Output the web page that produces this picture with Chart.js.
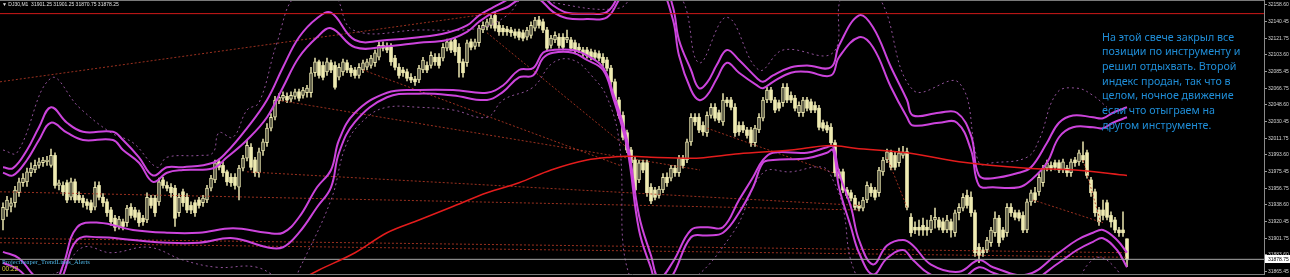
<!DOCTYPE html>
<html>
<head>
<meta charset="utf-8">
<script src="https://cdn.jsdelivr.net/npm/chart.js@4.4.1/dist/chart.umd.min.js"></script>
<style>
  html, body { margin: 0; padding: 0; background: #000; overflow: hidden; }
  #wrap { position: relative; width: 1290px; height: 277px; background: #000; }
  #c { position: absolute; left: 0; top: 0; }
  .txt { position: absolute; white-space: pre; }
  #hdr { left: 2px; top: 1px; font: 5px "Liberation Sans", sans-serif; color: #e0e0e0; line-height: 6px; }
  #note { left: 1102px; top: 29.5px; font: 10.7px "Noto Sans", sans-serif; color: #1f8ed8; line-height: 14.7px; }
  #ind { left: 2px; top: 258px; font: 6.5px "Liberation Serif", serif; color: #4fb6e6; line-height: 7px; }
  #tm { left: 2px; top: 265px; font: 6.5px "Liberation Sans", sans-serif; color: #e0d040; line-height: 7px; }
</style>
</head>
<body>
<div id="wrap">
  <canvas id="c" width="1290" height="277"></canvas>
  <div id="hdr" class="txt">▼ DJ30,M1  31901.25 31901.25 31870.75 31878.25</div>
  <div id="note" class="txt">На этой свече закрыл все
позиции по инструменту и
решил отдыхвать. Второй
индекс продан, так что в
целом, ночное движение
если что отыграем на
другом инструменте.</div>
  <div id="ind" class="txt">Projectheaper_TrendLines_Alerts</div>
  <div id="tm" class="txt">00:22</div>
</div>
<script>
// ---------- DATA (DJ30, M1) ----------
const open = [
31922,31933,31937,31941,31952,31963,31964,31974,31977,31982,
31985,31986,31982,31993,31960,31960,31963,31947,31964,31949,
31946,31942,31941,31936,31960,31947,31942,31933,31924,31915,
31920,31919,31936,31933,31930,31924,31922,31946,31946,31942,
31966,31960,31958,31957,31930,31953,31947,31938,31941,31944,
31941,31944,31957,31966,31986,31982,31975,31969,31969,31958,
31979,31990,32002,31988,31974,31998,32007,32023,32035,32053,
32056,32058,32055,32058,32063,32059,32062,32062,32084,32096,
32092,32085,32095,32092,32079,32085,32095,32089,32087,32081,
32087,32090,32092,32095,32101,32114,32113,32112,32100,32090,
32087,32085,32079,32077,32076,32087,32092,32092,32101,32101,
32100,32111,32118,32120,32112,32096,32095,32118,32113,32117,
32131,32134,32136,32147,32136,32133,32132,32131,32129,32129,
32128,32123,32125,32133,32142,32140,32131,32114,32120,32123,
32123,32120,32120,32117,32112,32109,32109,32107,32106,32105,
32101,32098,32089,32074,32054,32037,32018,31999,31988,31966,
31985,31985,31958,31955,31949,31955,31969,31968,31979,31974,
31990,31988,32008,32035,32035,32026,32018,32037,32046,32040,
32030,32054,32054,32046,32026,32026,32021,32021,32007,32021,
32034,32054,32065,32054,32051,32051,32068,32059,32056,32040,
32040,32054,32052,32048,32045,32029,32026,32024,32007,31975,
31975,31955,31952,31946,31938,31935,31944,31958,31955,31952,
31975,31988,31996,31993,31985,31993,31997,31925,31914,31914,
31916,31914,31911,31922,31922,31920,31911,31920,31908,31930,
31935,31949,31947,31930,31892,31889,31889,31897,31908,31924,
31911,31908,31936,31930,31930,31927,31911,31942,31952,31953,
31963,31979,31982,31985,31985,31977,31979,31974,31988,31986,
31993,31996,31966,31953,31933,31933,31941,31927,31922,31911,
31911,31901.25];
const high = [
31941,31948,31946,31959,31968,31973,31979,31985,31988,31990,
31991,31992,32000,31996,31966,31964,31966,31968,31967,31953,
31949,31945,31944,31964,31964,31951,31945,31936,31927,31926,
31923,31938,31940,31936,31933,31927,31952,31949,31949,31968,
31969,31964,31962,31960,31951,31956,31951,31942,31944,31947,
31949,31960,31971,31988,31989,31986,31977,31973,31973,31982,
31993,32010,32006,31991,32001,32011,32028,32039,32058,32061,
32063,32062,32063,32066,32066,32068,32070,32090,32100,32098,
32096,32100,32098,32096,32094,32099,32098,32092,32090,32094,
32098,32099,32103,32109,32118,32118,32117,32116,32103,32094,
32090,32088,32083,32080,32092,32101,32096,32107,32105,32105,
32116,32121,32121,32123,32116,32099,32120,32121,32121,32136,
32140,32143,32147,32151,32140,32136,32135,32134,32132,32132,
32131,32134,32140,32145,32146,32143,32134,32125,32129,32127,
32127,32131,32123,32120,32116,32112,32112,32110,32109,32108,
32105,32101,32092,32077,32057,32041,32021,32002,31991,31988,
31988,31988,31962,31958,31959,31973,31974,31982,31982,31993,
31993,32011,32039,32039,32039,32030,32041,32050,32050,32043,
32061,32057,32057,32050,32030,32030,32024,32024,32026,32039,
32057,32068,32068,32057,32054,32072,32072,32063,32059,32052,
32057,32057,32055,32052,32048,32032,32030,32028,32010,31978,
31978,31958,31955,31949,31942,31947,31964,31962,31958,31980,
31991,32000,31999,31997,32001,32003,32001,31929,31920,31922,
31924,31922,31927,31935,31925,31924,31927,31923,31933,31940,
31951,31955,31953,31933,31896,31892,31903,31914,31931,31927,
31914,31940,31940,31933,31933,31931,31945,31955,31958,31973,
31982,31988,31986,31988,31988,31989,31982,31989,31991,31999,
32008,31999,31969,31956,31936,31944,31944,31931,31925,31914,
31931,31901.25];
const low = [
31911,31926,31931,31936,31948,31959,31959,31970,31974,31979,
31981,31982,31980,31957,31955,31949,31941,31944,31941,31941,
31936,31934,31930,31933,31944,31937,31926,31916,31910,31912,
31911,31915,31924,31922,31915,31916,31919,31935,31926,31938,
31957,31954,31947,31915,31926,31937,31930,31929,31926,31935,
31937,31941,31954,31963,31977,31970,31960,31959,31956,31944,
31976,31987,31977,31970,31969,31993,32003,32020,32032,32050,
32053,32051,32052,32055,32053,32056,32057,32057,32080,32078,
32076,32081,32084,32066,32076,32081,32084,32080,32078,32078,
32084,32087,32089,32091,32098,32108,32106,32092,32087,32078,
32080,32075,32073,32070,32073,32084,32084,32089,32092,32089,
32097,32108,32106,32103,32079,32079,32091,32109,32110,32113,
32128,32131,32133,32130,32125,32125,32125,32124,32122,32120,
32119,32120,32122,32130,32133,32128,32108,32111,32117,32111,
32109,32117,32108,32106,32106,32102,32100,32098,32098,32097,
32091,32086,32070,32051,32034,32010,31996,31981,31952,31963,
31974,31948,31940,31944,31946,31952,31959,31965,31970,31970,
31979,31985,32004,32026,32018,32015,32014,32034,32031,32029,
32026,32047,32043,32014,32015,32018,32012,32003,32003,32018,
32031,32051,32051,32040,32042,32047,32051,32051,32042,32036,
32036,32042,32040,32040,32021,32020,32018,32003,31970,31968,
31952,31946,31943,31933,31932,31932,31941,31948,31944,31948,
31971,31985,31977,31977,31981,31990,31933,31904,31907,31905,
31905,31905,31908,31913,31911,31908,31908,31903,31904,31922,
31932,31935,31926,31882,31875,31882,31886,31893,31904,31893,
31900,31904,31926,31922,31921,31908,31908,31938,31941,31949,
31959,31976,31976,31977,31974,31974,31970,31970,31981,31982,
31985,31968,31948,31926,31916,31922,31922,31914,31908,31904,
31904,31870.75];
const close = [
31936,31944,31941,31955,31964,31968,31975,31979,31982,31986,
31988,31988,31993,31960,31963,31953,31944,31964,31944,31944,
31941,31938,31933,31958,31947,31941,31930,31920,31914,31923,
31915,31935,31927,31925,31919,31920,31947,31938,31930,31964,
31960,31957,31952,31924,31947,31941,31933,31933,31930,31938,
31946,31957,31968,31985,31980,31974,31964,31963,31960,31979,
31990,32004,31980,31974,31997,32008,32023,32035,32054,32057,
32059,32054,32059,32063,32056,32065,32067,32084,32096,32081,
32079,32096,32087,32068,32090,32096,32087,32084,32081,32090,
32095,32096,32100,32106,32114,32111,32109,32096,32090,32081,
32084,32078,32076,32074,32089,32098,32087,32103,32096,32092,
32112,32118,32109,32107,32095,32084,32117,32112,32118,32133,
32136,32140,32144,32133,32129,32129,32129,32128,32125,32123,
32122,32131,32136,32142,32136,32131,32111,32122,32125,32114,
32112,32123,32111,32109,32109,32106,32103,32101,32101,32100,
32095,32089,32074,32054,32037,32013,31999,31985,31955,31985,
31977,31952,31943,31947,31956,31969,31963,31979,31974,31990,
31982,32008,32035,32030,32021,32019,32037,32046,32034,32032,
32054,32051,32046,32018,32019,32021,32015,32007,32023,32035,
32054,32065,32054,32043,32045,32068,32054,32054,32045,32048,
32054,32045,32043,32043,32024,32023,32021,32007,31974,31971,
31955,31949,31946,31936,31935,31944,31960,31952,31947,31977,
31988,31997,31980,31980,31996,31997,31936,31908,31911,31911,
31911,31911,31922,31925,31914,31911,31922,31911,31930,31936,
31947,31938,31930,31886,31883,31886,31900,31911,31924,31897,
31903,31936,31930,31925,31924,31911,31942,31952,31944,31969,
31979,31985,31979,31980,31977,31986,31974,31986,31985,31996,
31988,31971,31952,31930,31920,31927,31925,31920,31911,31908,
31908,31878.25];

// Channel bands (candle index -> price)
const uIdx = [0,2.5,6,9,12,16,20,27.5,30,34,37.5,41,45,52.5,56,61,66,70,74,78.5,82,88,96,104,111,116,119,122.5,126,129,133.5,137.5,141,146,151,154,159,164,167.5,169,172,174,176,178.5,181,184,188.5,190,192.5,197,201,207,209,214,217.5,222,226,227.5,234,238.5,242,244,247.5,254,257,261,264,267.5,272.5,275,277.5,281];
const upper1 = [31980,31979,31999,32024,32046,32029,32019,32019,32010,31991,31971,31980,31980,31985,31997,32023,32054,32090,32123,32144,32150,32120,32120,32123,32128,32136,32147,32156,32164,32173,32173,32158,32150,32149,32151,32170,32208,32197,32156,32120,32087,32067,32073,32093,32109,32098,32078,32074,32081,32090,32092,32090,32114,32147,32134,32090,32054,32037,32040,32040,32015,31971,31968,31974,31980,32007,32029,32037,32035,32034,32040,32046];
const upper2 = [31974,31971,31988,32010,32029,32018,32010,32010,31999,31985,31964,31974,31977,31979,31991,32010,32035,32068,32101,32123,32133,32112,32113,32117,32120,32129,32140,32150,32156,32164,32166,32151,32144,32143,32145,32164,32197,32181,32142,32103,32065,32054,32059,32078,32095,32084,32070,32067,32074,32084,32085,32081,32101,32123,32112,32068,32035,32026,32029,32029,31999,31960,31958,31958,31966,31985,32013,32024,32024,32023,32029,32035];
const lIdx = [0,4,7.5,12,15,18.5,24,32.5,41,49,57.5,66,70,74,78.5,82,84,88,96,104,112.5,121,125,129,132.5,135,137.5,142.5,146,150,152.5,156,159,162,164,167.5,172,176,180,184,187.5,190,192.5,201,206,207.5,209,212,214,217.5,221,225,227.5,232,239,244,247.5,256,264,268.5,272.5,275,278.5,281];
const lower1 = [31887,31880,31862,31845,31872,31914,31919,31911,31908,31908,31913,31908,31908,31925,31958,31977,32010,32040,32062,32065,32065,32062,32070,32087,32089,32106,32109,32109,32103,32090,32062,32010,31927,31883,31858,31876,31911,31914,31914,31944,31969,31988,31996,31996,32002,32003,31974,31936,31900,31873,31894,31900,31894,31873,31865,31878,31870,31862,31886,31900,31908,31911,31900,31886];
const lower2 = [31875,31867,31851,31834,31861,31900,31903,31900,31897,31897,31902,31892,31892,31908,31936,31958,31996,32030,32057,32061,32059,32054,32063,32079,32081,32100,32106,32106,32098,32087,32057,32002,31911,31869,31845,31862,31903,31905,31908,31930,31958,31985,31988,31990,31996,31999,31958,31914,31886,31862,31880,31889,31878,31862,31856,31870,31864,31854,31875,31889,31898,31902,31889,31870];
const dUpIdx = [0,3.5,12,19,27,32.5,38.5,41,49,52.5,54,57.5,61,64,68.5,73.5,82.5,87.5,104,119,126,131,137.5,154,159,169,174,181,189,195,207.5,210,218.5,227.5,239,244,247.5,256,259,263.5,268.5,272.5,276];
const dottedUpper = [31999,31996,32078,32046,32018,32007,31980,31991,31993,31996,32018,32013,32043,32051,32117,32170,32170,32131,32131,32133,32147,32170,32161,32155,32175,32170,32095,32145,32087,32109,32106,32170,32170,32065,32073,31985,31985,31991,32010,32062,32067,32059,32046];
const dDnIdx = [0,14,20,27,36.5,45,53.5,63.5,72,74,82,86,91,96,104,112.5,121,125,132.5,137.5,142.5,147.5,151,154,157.5,170,182.5,190,197,205,207.5,210,212.5,217.5,266.75,271,274,277.5,281];
const dottedLower = [31851,31865,31892,31886,31892,31878,31870,31870,31851,31867,31944,32007,32035,32046,32046,32043,32035,32054,32068,32095,32098,32079,32057,32010,31851,31851,31908,31974,31975,31980,31966,31936,31870,31845,31845,31872,31881,31872,31851];
// Moving average (red)
const maIdx = [75,79,88,96,104,112,121,129,137,146,152,156,162,172,184,197,207,213,226,239,256,268,281];
const maValues = [31858,31867,31886,31908,31922,31936,31952,31963,31977,31988,31991,31992,31991,31990,31995,31999,32004,32001,31996,31986,31979,31977,31971];
// Dotted trend lines: [startIndex, startPrice, endIndex, endPrice]
const trend1 = [-0.75, 32074, 121.75, 32149];
const trend2 = [-0.75, 31953, 214.25, 31933];
const trend3 = [61, 31975, 214.25, 31938];
const trend4 = [-0.75, 31902, 281, 31886];
const trend5 = [-0.75, 31897, 281, 31881];
const trend6 = [68.5, 32054, 174.25, 31977];
const trend7 = [121, 32128, 156.75, 31999];
const trend8 = [90, 32087, 154.25, 31982];
const trend9 = [176, 32023, 207.5, 31974];
const trend10 = [221, 31991, 226, 31936];
const trend11 = [257.5, 31944, 275, 31919];
const trend12 = [270, 31988, 274.25, 31922];
const trendLines = [trend1,trend2,trend3,trend4,trend5,trend6,trend7,trend8,trend9,trend10,trend11,trend12];
// Levels
const resistanceLevel = 32149;
const bidPrice = 31878.75;
// Y-axis tick labels
const yTicks = [32158.60,32140.45,32121.75,32103.60,32085.45,32066.75,32048.60,32030.45,32011.75,31993.60,31975.45,31956.75,31938.60,31920.45,31901.75,31883.60,31865.45];

// ---------- BUILD ----------
const candleIndex = open.map((_, i) => i);
const X_MIN = -0.75, X_MAX = 315.25;
const pts = (ix, vs) => ix.map((x, k) => ({x: x, y: vs[k]}));
const isBear = candleIndex.map(i => close[i] < open[i]);

const CREAM = '#efebb2';
const bandStyle = {type: 'line', borderColor: '#cc44dc', borderWidth: 2, pointRadius: 0, fill: false, tension: 0.4, order: 5};
const dotStyle = {type: 'line', borderColor: 'rgba(160,90,170,0.9)', borderWidth: 1, borderDash: [2, 3], pointRadius: 0, fill: false, tension: 0.4, order: 6};

const datasets = [
  {type: 'bar', label: 'wicks', data: candleIndex.map(i => ({x: i, y: [low[i], high[i]]})),
   backgroundColor: '#d6d2a0', barThickness: 1, grouped: false, borderWidth: 0, order: 11},
  {type: 'bar', label: 'bodies', data: candleIndex.map(i => ({x: i, y: [open[i], close[i]]})),
   backgroundColor: candleIndex.map(i => isBear[i] ? CREAM : '#4a4a3a'),
   borderColor: CREAM, borderWidth: candleIndex.map(i => isBear[i] ? 0 : 1), borderSkipped: false,
   barThickness: 3, grouped: false, order: 10},
];
trendLines.forEach((t, k) => datasets.push({
  type: 'line', label: 'trend' + (k + 1), data: [{x: t[0], y: t[1]}, {x: t[2], y: t[3]}],
  borderColor: 'rgba(180,56,36,0.85)', borderWidth: 1, borderDash: [2, 2], pointRadius: 0, fill: false, order: 8
}));
datasets.push(
  Object.assign({label: 'dotted upper', data: pts(dUpIdx, dottedUpper)}, dotStyle),
  Object.assign({label: 'dotted lower', data: pts(dDnIdx, dottedLower)}, dotStyle),
  Object.assign({label: 'upper 1', data: pts(uIdx, upper1)}, bandStyle),
  Object.assign({label: 'upper 2', data: pts(uIdx, upper2)}, bandStyle),
  Object.assign({label: 'lower 1', data: pts(lIdx, lower1)}, bandStyle),
  Object.assign({label: 'lower 2', data: pts(lIdx, lower2)}, bandStyle),
  {type: 'line', label: 'bid', data: [{x: X_MIN, y: bidPrice}, {x: X_MAX, y: bidPrice}],
   borderColor: '#a8a8a8', borderWidth: 1, pointRadius: 0, order: 4},
  {type: 'line', label: 'MA', data: pts(maIdx, maValues), borderColor: '#e41c1c', borderWidth: 1.5,
   pointRadius: 0, fill: false, cubicInterpolationMode: 'monotone', order: 3},
  {type: 'line', label: 'level', data: [{x: X_MIN, y: resistanceLevel}, {x: X_MAX, y: resistanceLevel}],
   borderColor: '#d01818', borderWidth: 1, pointRadius: 0, order: 2}
);

const framePlugin = {
  id: 'frame',
  afterDraw(chart) {
    const ctx = chart.ctx, a = chart.chartArea, ys = chart.scales.y;
    ctx.save();
    ctx.strokeStyle = '#7a7a7a'; ctx.lineWidth = 1;
    ctx.beginPath(); ctx.moveTo(a.left, 0.5); ctx.lineTo(a.right, 0.5); ctx.stroke();
    const y = ys.getPixelForValue(bidPrice);
    ctx.fillStyle = '#ffffff';
    ctx.fillRect(a.right + 1, Math.round(y) - 4, 25, 8);
    ctx.fillStyle = '#000000';
    ctx.font = '5px "Liberation Sans"';
    ctx.textBaseline = 'middle';
    ctx.fillText(bidPrice.toFixed(2), a.right + 4, y);
    ctx.restore();
  }
};

new Chart(document.getElementById('c'), {
  type: 'bar',
  data: {datasets: datasets},
  options: {
    responsive: false, animation: false, devicePixelRatio: 1,
    layout: {padding: 0},
    plugins: {legend: {display: false}, tooltip: {enabled: false}},
    scales: {
      x: {
        type: 'linear', min: X_MIN, max: X_MAX, offset: false, position: 'bottom',
        ticks: {display: false}, grid: {display: false, drawTicks: false},
        border: {display: true, color: '#7a7a7a'},
        afterFit: s => { s.height = 3; s.paddingLeft = 0; s.paddingRight = 0; }
      },
      y: {
        type: 'linear', position: 'right', min: 31862.6, max: 32164,
        afterBuildTicks: s => { s.ticks = yTicks.map(v => ({value: v})); },
        afterFit: s => { s.width = 26; s.paddingTop = 0; s.paddingBottom = 0; },
        ticks: {autoSkip: false, padding: 1, color: '#d4d4d4',
                font: {size: 5, family: 'Liberation Sans'}, callback: v => Number(v).toFixed(2)},
        grid: {drawOnChartArea: false, drawTicks: true, tickLength: 3, color: '#9a9a9a'},
        border: {display: true, color: '#8a8a8a'}
      }
    }
  },
  plugins: [framePlugin]
});
</script>
</body>
</html>
